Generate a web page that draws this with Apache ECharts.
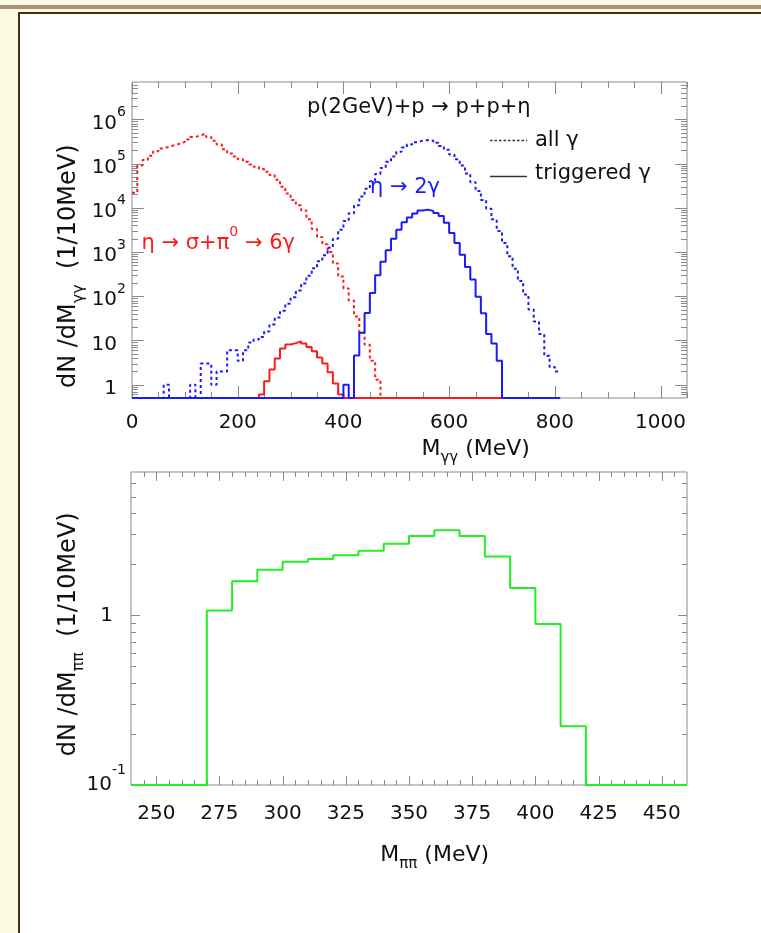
<!DOCTYPE html>
<html>
<head>
<meta charset="utf-8">
<script src="https://cdn.jsdelivr.net/npm/echarts@6/dist/echarts.min.js"></script>
<style>
html, body { margin: 0; padding: 0; width: 761px; height: 933px; overflow: hidden; background: #fcfae3; }
#band { position: absolute; left: 0; top: 5px; width: 761px; height: 4px; background: #a8927a; }
#box { position: absolute; left: 18px; top: 12px; width: 760px; height: 940px; border: 2px solid #4a2b10; background: #fff; box-sizing: border-box; }
#chart { position: absolute; left: 0; top: 0; width: 761px; height: 933px; }
</style>
</head>
<body>
<div id="band"></div>
<div id="box"></div>
<div id="chart"></div>
<script>
// bin width of both histograms (MeV)
const binWidth = 10

// upper panel: M_gg, bins start at 0 MeV (0-10, 10-20, ...)
const ggStart = 0
// eta -> sigma + pi0 -> 6 gamma, all photons
const redAll = [
  2.2e4, 9e4, 1.2e5, 1.5e5, 1.9e5, 2.2e5, 2.4e5, 2.6e5, 2.8e5, 3.1e5,
  3.5e5, 4.0e5, 4.4e5, 4.7e5, 4.0e5, 3.3e5, 2.7e5, 2.1e5, 1.7e5, 1.45e5,
  1.25e5, 1.1e5, 9.5e4, 8.5e4, 7.5e4, 6.5e4, 5.5e4, 4.3e4, 3.0e4, 2.1e4,
  1.5e4, 1.15e4, 8.7e3, 5.5e3, 3.3e3, 2.2e3, 1.5e3, 1.0e3, 550, 280,
  150, 80, 35, 15, 8, 3.5, 1.3, 0, 0, 0,
  0, 0, 0, 0, 0, 0, 0, 0, 0, 0,
  0, 0, 0, 0, 0, 0, 0, 0, 0, 0,
  0, 0, 0, 0, 0, 0, 0, 0, 0, 0,
  0
]
// eta -> sigma + pi0 -> 6 gamma, triggered photons
const redTrig = [
  0, 0, 0, 0, 0, 0, 0, 0, 0, 0,
  0, 0, 0, 0, 0, 0, 0, 0, 0, 0,
  0, 0, 0, 0, 0.6, 1.2, 2.2, 3.9, 6.6, 8.1,
  8.7, 9.5, 8.5, 7.1, 5.7, 4.1, 3.0, 1.9, 1.07, 0.6,
  0, 0, 0, 0, 0, 0, 0, 0, 0, 0,
  0, 0, 0, 0, 0, 0, 0, 0, 0, 0,
  0, 0, 0, 0, 0, 0, 0, 0, 0, 0,
  0, 0, 0, 0, 0, 0, 0, 0, 0, 0,
  0
]
// eta -> 2 gamma, all photons
const blueAll = [
  0, 0, 0, 0, 0, 0, 1, 0, 0, 0,
  0, 1, 0, 3, 3, 1, 2, 2, 6, 6,
  3.5, 6, 9, 10.5, 12, 16, 23, 33, 47, 68,
  95, 135, 195, 290, 430, 620, 850, 1250, 2000, 3200,
  5000, 7500, 1.15e4, 1.8e4, 2.7e4, 4.0e4, 5.8e4, 8.0e4, 1.1e5, 1.45e5,
  1.85e5, 2.3e5, 2.7e5, 3.05e5, 3.3e5, 3.4e5, 3.3e5, 2.95e5, 2.5e5, 2.05e5,
  1.6e5, 1.25e5, 9.0e4, 6.0e4, 3.8e4, 2.4e4, 1.5e4, 9.5e3, 5.5e3, 3.0e3,
  1.6e3, 800, 420, 220, 110, 50, 27, 14, 4.5, 2.5,
  2
]
// eta -> 2 gamma, triggered photons
const blueTrig = [
  0, 0, 0, 0, 0, 0, 0, 0, 0, 0,
  0, 0, 0, 0, 0, 0, 0, 0, 0, 0,
  0, 0, 0, 0, 0, 0, 0, 0, 0, 0,
  0, 0, 0, 0, 0, 0, 0, 0, 0, 0,
  1, 0, 4.6, 15, 42, 118, 300, 600, 1100, 2000,
  3200, 4700, 6000, 7400, 8700, 9100, 8500, 7600, 6500, 4600,
  2700, 1600, 870, 460, 240, 98, 41, 14, 8.5, 3.5,
  0, 0, 0, 0, 0, 0, 0, 0, 0, 0,
  0
]

// lower panel: M_pipi, bins start at 240 MeV
const ppStart = 240
const greenTrig = [
  0, 0, 0, 1.07, 1.59, 1.86, 2.07, 2.15, 2.26, 2.40,
  2.64, 2.94, 3.18, 2.94, 2.22, 1.45, 0.89, 0.222, 0, 0,
  0, 0
]

// tick values
const ggMajorX = [0, 200, 400, 600, 800, 1000]
const ppMajorX = [250, 275, 300, 325, 350, 375, 400, 425, 450]
const ggMajorY = [1, 10, 1e2, 1e3, 1e4, 1e5, 1e6]
const ppMajorY = [0.1, 1]

const ggMinorX = []
for (let v = 50; v <= 1050; v += 50) if (v % 200 !== 0) ggMinorX.push(v)
const ppMinorX = []
for (let v = 245; v <= 455; v += 5) if (v % 25 !== 0) ppMinorX.push(v)
function decadeMinors (lo, hi) {
  const out = []
  for (let e = -2; e <= 7; e++) {
    for (let m = 2; m <= 9; m++) {
      const v = m * Math.pow(10, e)
      if (v > lo && v < hi) out.push(v)
    }
  }
  return out
}
const ggMinorY = decadeMinors(0.5, 7e6)
const ppMinorY = decadeMinors(0.1, 7)

const font = 'DejaVu Sans'
const ink = '#111'
const red = '#ff1a1a'
const blue = '#1a1aff'
const green = '#22ee22'

// histogram outline points for a step line
function steps (vals, x0, floor) {
  const pts = vals.map((v, i) => [x0 + i * binWidth, v > 0 ? v : floor])
  const last = vals[vals.length - 1]
  pts.push([x0 + vals.length * binWidth, last > 0 ? last : floor])
  return pts
}

function histSeries (vals, x0, floor, color, dashed, idx) {
  return {
    type: 'line',
    xAxisIndex: idx,
    yAxisIndex: idx,
    step: 'end',
    showSymbol: false,
    silent: true,
    data: steps(vals, x0, floor),
    lineStyle: { color: color, width: 2, type: dashed ? [3, 3] : 'solid' },
    z: 3
  }
}

// ticks on all four sides of a frame
function frameTicks (idx, xMaj, xMin, yMaj, yMin, majLen, minLen) {
  return {
    type: 'custom',
    xAxisIndex: idx,
    yAxisIndex: idx,
    silent: true,
    z: 2,
    data: [[xMaj[0], yMaj[0]]],
    renderItem (params, api) {
      const cs = params.coordSys
      const l = cs.x
      const r = cs.x + cs.width
      const t = cs.y
      const b = cs.y + cs.height
      const kids = []
      const add = (x1, y1, x2, y2) => kids.push({
        type: 'line',
        shape: { x1: x1, y1: y1, x2: x2, y2: y2 },
        style: { stroke: '#8a8a8a', lineWidth: 1 }
      })
      const xt = (v, len) => {
        const x = Math.round(api.coord([v, yMaj[0]])[0]) + 0.5
        add(x, b, x, b - len)
        add(x, t, x, t + len)
      }
      const yt = (v, len) => {
        const y = Math.round(api.coord([xMaj[0], v])[1]) + 0.5
        add(l, y, l + len, y)
        add(r, y, r - len, y)
      }
      xMaj.forEach(v => xt(v, majLen))
      xMin.forEach(v => xt(v, minLen))
      yMaj.forEach(v => yt(v, majLen))
      yMin.forEach(v => yt(v, minLen))
      return { type: 'group', children: kids }
    }
  }
}

const tickRich = (padW, strut) => ({
  b: { fontSize: 20, lineHeight: 20, fontFamily: font, color: ink, verticalAlign: 'bottom' },
  s: { fontSize: 14, lineHeight: 14, fontFamily: font, color: ink, verticalAlign: 'top' },
  p: { fontSize: 14, lineHeight: 14, width: padW },
  z: { fontSize: 2, lineHeight: strut }
})

function ggLabel (v) {
  const e = Math.round(Math.log10(v))
  if (e === 0) return '{z| }{b|1}{p| }'
  if (e === 1) return '{z| }{b|10}{p| }'
  return '{z| }{b|10}{s|' + e + '}'
}
function ppLabel (v) {
  const e = Math.round(Math.log10(v))
  if (e === 0) return '{z| }{b|1}{p| }'
  return '{z| }{b|10}{s|' + e + '}'
}

const titleRich = (size, subSize, strut) => ({
  t: { fontSize: size, lineHeight: size, fontFamily: font, fill: ink, color: ink, verticalAlign: 'top' },
  s: { fontSize: subSize, lineHeight: subSize, fontFamily: font, fill: ink, color: ink, verticalAlign: 'bottom' },
  z: { fontSize: 2, lineHeight: strut }
})

const myChart = echarts.init(document.getElementById('chart'), null, { renderer: 'canvas' })

const option = {
  animation: false,
  backgroundColor: 'transparent',
  textStyle: { fontFamily: font },
  grid: [
    { left: 132, top: 82, width: 555, height: 316, show: true, borderColor: '#8a8a8a', borderWidth: 1, backgroundColor: 'transparent' },
    { left: 131, top: 472, width: 556, height: 313, show: true, borderColor: '#8a8a8a', borderWidth: 1, backgroundColor: 'transparent' }
  ],
  xAxis: [
    {
      gridIndex: 0,
      type: 'value',
      min: 0,
      max: 1050,
      interval: 200,
      axisLine: { show: false },
      axisTick: { show: false },
      splitLine: { show: false },
      axisLabel: { fontSize: 20, color: ink, margin: 15, showMaxLabel: false, formatter: v => String(v) }
    },
    {
      gridIndex: 1,
      type: 'value',
      min: 240,
      max: 460,
      interval: 5,
      axisLine: { show: false },
      axisTick: { show: false },
      splitLine: { show: false },
      axisLabel: {
        fontSize: 20,
        color: ink,
        margin: 19,
        formatter: v => (v % 25 === 0 ? String(v) : '')
      }
    }
  ],
  yAxis: [
    {
      gridIndex: 0,
      type: 'log',
      logBase: 10,
      min: 0.5,
      max: 7e6,
      axisLine: { show: false },
      axisTick: { show: false },
      splitLine: { show: false },
      axisLabel: {
        margin: 6,
        showMinLabel: false,
        showMaxLabel: false,
        formatter: ggLabel,
        rich: tickRich(9, 28)
      }
    },
    {
      gridIndex: 1,
      type: 'log',
      logBase: 10,
      min: 0.1,
      max: 7,
      axisLine: { show: false },
      axisTick: { show: false },
      splitLine: { show: false },
      axisLabel: {
        margin: 5,
        showMaxLabel: false,
        formatter: ppLabel,
        rich: tickRich(13, 32),
        padding: [0, 0, 12, 0]
      }
    }
  ],
  graphic: [
    { type: 'text', x: 307, y: 108, style: { text: 'p(2GeV)+p → p+p+η', fontSize: 21, fontFamily: font, fill: ink, verticalAlign: 'middle' } },
    { type: 'line', shape: { x1: 490, y1: 140.5, x2: 527, y2: 140.5 }, style: { stroke: '#333', lineWidth: 1.5, lineDash: [2.5, 2] } },
    { type: 'text', x: 535, y: 140.5, style: { text: 'all γ', fontSize: 21, fontFamily: font, fill: ink, verticalAlign: 'middle' } },
    { type: 'line', shape: { x1: 490, y1: 176.5, x2: 527, y2: 176.5 }, style: { stroke: '#333', lineWidth: 1.5 } },
    { type: 'text', x: 535, y: 174, style: { text: 'triggered γ', fontSize: 21, fontFamily: font, fill: ink, verticalAlign: 'middle' } },
    { type: 'text', x: 370, y: 187.5, style: { text: 'η → 2γ', fontSize: 21, fontFamily: font, fill: blue, verticalAlign: 'middle' } },
    {
      type: 'text',
      x: 141,
      y: 240,
      style: {
        text: '{z| }{b|η → σ+π}{s|0}{b| → 6γ}',
        verticalAlign: 'middle',
        rich: {
          b: { fontSize: 21, lineHeight: 21, fontFamily: font, fill: red, color: red, verticalAlign: 'bottom' },
          s: { fontSize: 14, lineHeight: 14, fontFamily: font, fill: red, color: red, verticalAlign: 'top' },
          z: { fontSize: 2, lineHeight: 29 }
        }
      }
    },
    {
      type: 'text',
      x: 72,
      y: 266,
      rotation: Math.PI / 2,
      style: { text: '{t|dN /dM}{s|γγ}{t|  (1/10MeV)}{z| }', align: 'center', verticalAlign: 'middle', rich: titleRich(24, 16, 30) }
    },
    {
      type: 'text',
      x: 72,
      y: 634,
      rotation: Math.PI / 2,
      style: { text: '{t|dN /dM}{s|ππ}{t|  (1/10MeV)}{z| }', align: 'center', verticalAlign: 'middle', rich: titleRich(24, 16, 30) }
    },
    {
      type: 'text',
      x: 476,
      y: 452,
      style: { text: '{t|M}{s|γγ}{t| (MeV)}{z| }', align: 'center', verticalAlign: 'middle', rich: titleRich(22, 15, 27) }
    },
    {
      type: 'text',
      x: 435,
      y: 858,
      style: { text: '{t|M}{s|ππ}{t| (MeV)}{z| }', align: 'center', verticalAlign: 'middle', rich: titleRich(22, 15, 27) }
    }
  ],
  series: [
    frameTicks(0, ggMajorX, ggMinorX, ggMajorY, ggMinorY, 12, 6),
    frameTicks(1, ppMajorX, ppMinorX, ppMajorY, ppMinorY, 9, 5),
    histSeries(redTrig, ggStart, 0.5, red, false, 0),
    histSeries(redAll, ggStart, 0.5, red, true, 0),
    histSeries(blueAll, ggStart, 0.5, blue, true, 0),
    histSeries(blueTrig, ggStart, 0.5, blue, false, 0),
    histSeries(greenTrig, ppStart, 0.1, green, false, 1)
  ]
}

myChart.setOption(option)
</script>
</body>
</html>
